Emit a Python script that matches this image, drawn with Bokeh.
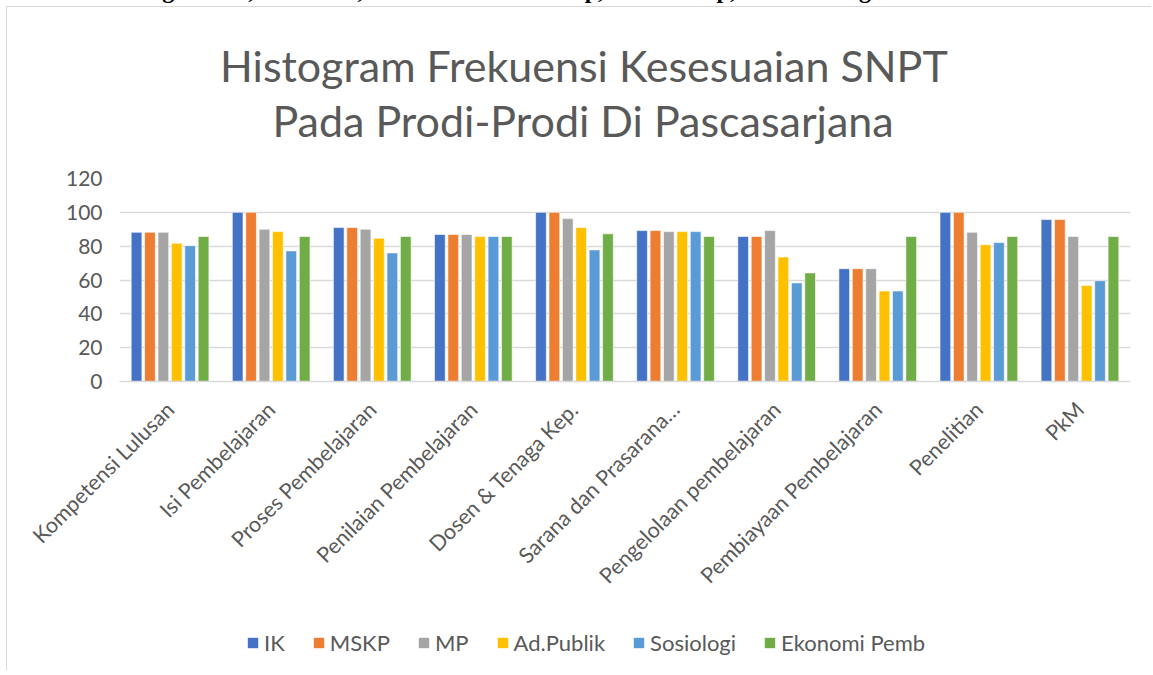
from bokeh.plotting import figure
from bokeh.models import (FactorRange, Range1d, Legend, LegendItem,
                          ColumnDataSource, Div, FixedTicker)
from bokeh.core.properties import value
from bokeh.transform import dodge
from bokeh.layouts import column
from bokeh.embed import file_html
from bokeh.resources import INLINE
import math

categories = ["Kompetensi Lulusan", "Isi Pembelajaran", "Proses Pembelajaran",
              "Penilaian Pembelajaran", "Dosen & Tenaga Kep.", "Sarana dan Prasarana…",
              "Pengelolaan pembelajaran", "Pembiayaan Pembelajaran", "Penelitian", "PkM"]

series_names = ["IK", "MSKP", "MP", "Ad.Publik", "Sosiologi", "Ekonomi Pemb"]
series_colors = ["#4472C4", "#ED7D31", "#A5A5A5", "#FFC000", "#5B9BD5", "#70AD47"]

IK = [88.2, 100, 91.0, 86.9, 100, 89.2, 85.7, 66.7, 100, 95.7]
MSKP = [88.2, 100, 91.0, 86.9, 100, 89.2, 85.7, 66.7, 100, 95.7]
MP = [88.2, 90.0, 90.0, 86.9, 96.3, 88.6, 89.2, 66.7, 88.2, 85.7]
AdPublik = [81.7, 88.6, 84.7, 85.7, 91.0, 88.6, 73.6, 53.5, 80.9, 56.8]
Sosiologi = [80.3, 77.2, 76.0, 85.7, 77.8, 88.6, 58.3, 53.5, 82.1, 59.6]
EkonomiPemb = [85.7, 85.7, 85.7, 85.7, 87.3, 85.7, 64.2, 85.7, 85.7, 85.7]

y_ticks = [0, 20, 40, 60, 80, 100, 120]

title_lines = ["Histogram Frekuensi Kesesuaian SNPT", "Pada Prodi-Prodi Di Pascasarjana"]
header_text = "Nilai : \u2265 85 Sangat Baik, \u2265 75 Baik, \u226565 Lebih dari Cukup, \u2265 55 Cukup, \u2264 54 Kurang."

series_values = [IK, MSKP, MP, AdPublik, Sosiologi, EkonomiPemb]

FONT = "Lato"
GREY_TEXT = "#595959"
GRID = "#D9D9D9"
W = 1145
BOX = {"margin-left": "6px", "border-left": "1px solid #D9D9D9"}

# ---- title strip (pixel-sized coordinate space) ----
TH = 159
tf = figure(width=W, height=TH, output_backend="svg", toolbar_location=None,
            x_range=Range1d(0, W), y_range=Range1d(0, TH),
            x_axis_location=None, y_axis_location=None,
            min_border=0, min_border_left=0, min_border_right=0,
            min_border_top=0, min_border_bottom=0)
tf.grid.visible = False
tf.outline_line_color = None
tf.title.visible = False
tf.text(x=[526, 525], y=[101, 46], text=title_lines,
        text_font=value(FONT), text_font_size="43px", text_color=GREY_TEXT,
        text_align="center", text_baseline="alphabetic")
tf.styles = dict(BOX, **{"border-top": "1px solid #D9D9D9"})

# ---- main chart ----
src = ColumnDataSource(dict(cat=categories,
                            **{f"s{i}": v for i, v in enumerate(series_values)}))

p = figure(x_range=FactorRange(*categories, range_padding=0),
           y_range=Range1d(0, 120),
           width=W, height=453,
           output_backend="svg", toolbar_location=None,
           min_border_left=112, min_border_right=22,
           min_border_top=13, min_border_bottom=237)
p.title.visible = False

step = 0.1325
bw = 0.106
for i, (name, col) in enumerate(zip(series_names, series_colors)):
    p.vbar(x=dodge("cat", (i - 2.5) * step, range=p.x_range), top=f"s{i}",
           width=bw, source=src, fill_color=col, line_color="white",
           line_width=0.6)

p.outline_line_color = None
p.xgrid.grid_line_color = None
p.ygrid.grid_line_color = GRID
p.ygrid.grid_line_width = 1.5
p.yaxis.ticker = FixedTicker(ticks=y_ticks)
p.yaxis.axis_line_color = None
p.yaxis.major_tick_line_color = None
p.yaxis.minor_tick_line_color = None
p.yaxis.major_label_text_font = FONT
p.yaxis.major_label_text_font_size = "21px"
p.yaxis.major_label_text_color = GREY_TEXT
p.yaxis.major_label_standoff = 11

p.xaxis.axis_line_color = GRID
p.xaxis.axis_line_width = 1.5
p.xaxis.major_tick_line_color = None
p.xaxis.minor_tick_line_color = None
p.xaxis.major_label_orientation = math.pi / 4
p.xaxis.major_label_text_font = FONT
p.xaxis.major_label_text_font_size = "21.5px"
p.xaxis.major_label_text_color = GREY_TEXT
p.xaxis.major_label_standoff = 18
p.styles = dict(BOX)

# ---- legend strip below the chart (swatches kept outside its visible range) ----
lg = figure(width=W, height=52, output_backend="svg", toolbar_location=None,
            x_range=Range1d(0, 1), y_range=Range1d(0, 1),
            min_border=0, min_border_left=0, min_border_right=0,
            min_border_top=0, min_border_bottom=0)
lg.axis.visible = False
lg.grid.visible = False
lg.outline_line_color = None
lg.title.visible = False
items = []
for name, col in zip(series_names, series_colors):
    r = lg.vbar(x=[-10], top=[-10], width=0.1, fill_color=col, line_color=None)
    items.append(LegendItem(label=name, renderers=[r]))
legend = Legend(items=items, orientation="horizontal", location=(127, 14),
                glyph_width=13, glyph_height=13, label_standoff=5, spacing=27,
                label_text_font=FONT, label_text_font_size="22px",
                label_text_color=GREY_TEXT, border_line_color=None,
                background_fill_alpha=0, padding=5, margin=0)
lg.add_layout(legend)
lg.styles = dict(BOX)

header = Div(text=header_text, width=W, height=22,
             styles={"font-family": "Liberation Serif", "font-weight": "bold",
                     "font-size": "24px", "color": "black", "margin-top": "-21px",
                     "line-height": "22px", "white-space": "nowrap"})

layout = column(header, tf, p, lg, spacing=0)

open("out.html", "w").write(file_html(layout, INLINE))
